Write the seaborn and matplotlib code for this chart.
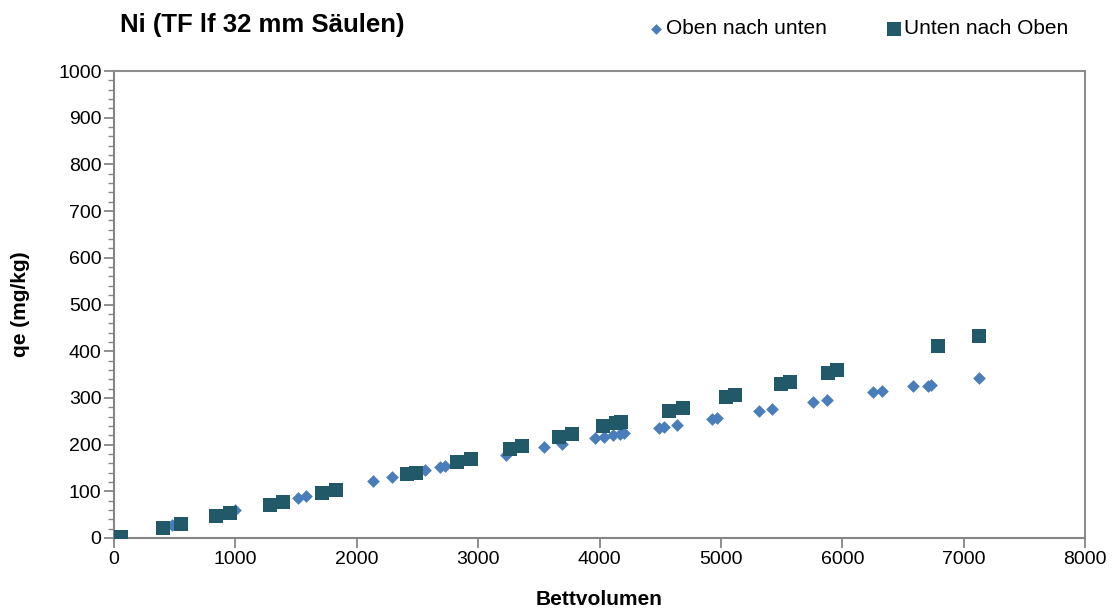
import matplotlib
matplotlib.use("Agg")
import matplotlib.pyplot as plt
import seaborn as sns
import pandas as pd
from matplotlib.ticker import MultipleLocator

sns.set_style("white")
plt.rcParams['font.family'] = ['Liberation Sans', 'DejaVu Sans']
plt.rcParams['text.color'] = 'black'
plt.rcParams['axes.labelcolor'] = 'black'

series_names = ["Oben nach unten", "Unten nach Oben"]

oben_x = [58, 475, 870, 997, 1518, 1582, 2131, 2292, 2562, 2686, 2727, 3226, 3545,
          3688, 3965, 4036, 4111, 4168, 4204, 4492, 4533, 4641, 4926, 4964, 5310,
          5422, 5761, 5874, 6250, 6324, 6585, 6703, 6730, 7123]
oben_y = [3, 28, 50, 60, 86, 90, 123, 131, 146, 152, 154, 178, 194,
          201, 214, 217, 220, 222, 224, 236, 238, 241, 254, 256, 271,
          276, 291, 296, 312, 315, 325, 326, 328, 342]

unten_x = [58, 406, 555, 840, 955, 1285, 1395, 1716, 1829, 2414, 2491, 2829, 2944,
           3262, 3364, 3663, 3770, 4031, 4140, 4176, 4572, 4684, 5042, 5116, 5493,
           5569, 5879, 5956, 6785, 7123]
unten_y = [3, 22, 30, 47, 53, 71, 77, 96, 103, 136, 140, 163, 170,
           190, 197, 216, 222, 239, 246, 248, 273, 279, 302, 306, 330,
           334, 354, 360, 412, 432]

df = pd.concat([
    pd.DataFrame({"Bettvolumen": oben_x, "qe": oben_y, "Serie": series_names[0]}),
    pd.DataFrame({"Bettvolumen": unten_x, "qe": unten_y, "Serie": series_names[1]}),
])

fig = plt.figure(figsize=(11.18, 6.12), dpi=100)
ax = fig.add_axes([114/1118, 1-538/612, (1085-114)/1118, (538-71)/612])

colors = {series_names[0]: "#4A7EBB", series_names[1]: "#215968"}
sizes = {series_names[0]: 42, series_names[1]: 100}
markers = {series_names[0]: "D", series_names[1]: "s"}

for name in series_names:
    sub = df[df["Serie"] == name]
    sns.scatterplot(data=sub, x="Bettvolumen", y="qe", ax=ax,
                    marker=markers[name], color=colors[name], s=sizes[name],
                    linewidth=0, label=name, zorder=3 if name == series_names[1] else 2)

ax.set_xlim(0, 8000)
ax.set_ylim(0, 1000)
ax.xaxis.set_major_locator(MultipleLocator(1000))
ax.yaxis.set_major_locator(MultipleLocator(100))
ax.yaxis.set_minor_locator(MultipleLocator(20))

for s in ["left", "bottom"]:
    ax.spines[s].set_color("#868686")
    ax.spines[s].set_linewidth(1.5)
for s in ["top", "right"]:
    ax.spines[s].set_color("#8c8c8c")
    ax.spines[s].set_linewidth(1.5)
    ax.spines[s].set_linestyle((0, (2, 1)))

ax.tick_params(axis="both", which="major", direction="out", length=7, width=1.3,
               color="#868686", labelsize=14, labelcolor="black", pad=2,
               left=True, bottom=True)
ax.tick_params(axis="y", which="minor", direction="out", length=4, width=1.0,
               color="#868686", left=True)

ax.set_xlabel("Bettvolumen", fontsize=15, fontweight="bold", labelpad=16)
ax.set_ylabel("qe (mg/kg)", fontsize=15, fontweight="bold", labelpad=20)

fig.text(120/1118, 1-25/612, "Ni (TF lf 32 mm Säulen)", fontsize=18.5,
         fontweight="bold", va="center", ha="left")

leg = ax.legend(loc="center right", bbox_to_anchor=(1087/1118, 1-29/612),
                bbox_transform=fig.transFigure, ncol=2, frameon=False,
                fontsize=15, handletextpad=0.0, columnspacing=2.7,
                handlelength=1.0)
leg.legend_handles[0].set_sizes([30])
leg.legend_handles[1].set_sizes([110])

fig.savefig("out.png", dpi=100)
